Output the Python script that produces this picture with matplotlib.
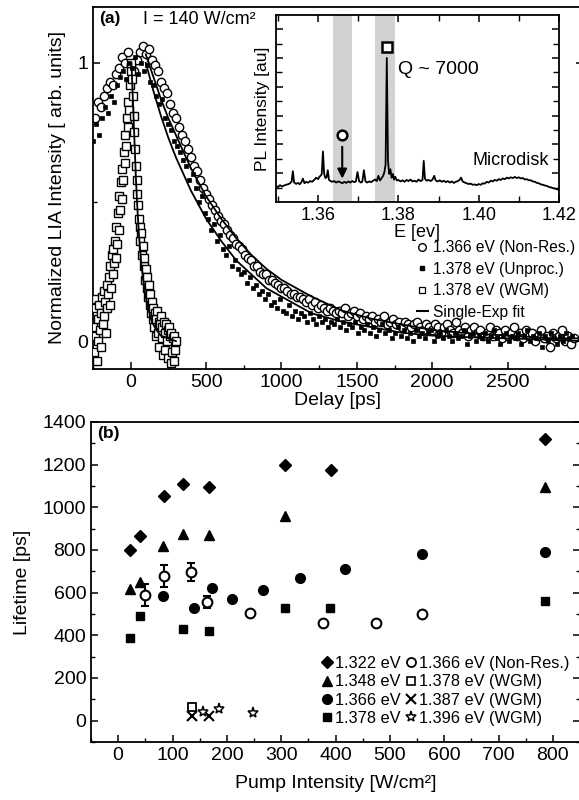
import numpy as np
import matplotlib
matplotlib.use("Agg")
import matplotlib.pyplot as plt
from matplotlib.lines import Line2D
from matplotlib.ticker import MultipleLocator, FixedLocator

plt.rcParams['font.family'] = ['Liberation Sans', 'DejaVu Sans']

# ---------------- Panel (a) data ----------------
nonres_delay = np.arange(-240, 2941, 20)
nonres_int = [
    0.80, 0.86, 0.84, 0.88, 0.91, 0.93, 0.92, 0.96, 0.98, 1.02,
    1.00, 1.04, 0.99, 0.97, 1.01, 1.04, 1.06, 1.03, 1.05, 1.01,
    0.99, 0.97, 0.93, 0.91, 0.89, 0.85, 0.82, 0.80, 0.77, 0.74,
    0.72, 0.69, 0.66, 0.63, 0.61, 0.58, 0.55, 0.53, 0.51, 0.49,
    0.47, 0.45, 0.43, 0.42, 0.40, 0.38, 0.37, 0.35, 0.34, 0.33,
    0.31, 0.30, 0.29, 0.27, 0.27, 0.25, 0.24, 0.24, 0.22, 0.22,
    0.21, 0.20, 0.19, 0.19, 0.18, 0.17, 0.17, 0.16, 0.16, 0.15,
    0.14, 0.15, 0.13, 0.14, 0.12, 0.13, 0.12, 0.11, 0.12, 0.11,
    0.10, 0.11, 0.10, 0.12, 0.09, 0.10, 0.11, 0.09, 0.10, 0.08,
    0.09, 0.08, 0.09, 0.07, 0.08, 0.07, 0.09, 0.06, 0.07, 0.08,
    0.06, 0.07, 0.05, 0.07, 0.06, 0.05, 0.06, 0.07, 0.05, 0.04,
    0.06, 0.05, 0.04, 0.06, 0.05, 0.03, 0.05, 0.06, 0.04, 0.03,
    0.07, 0.04, 0.03, 0.05, 0.02, 0.04, 0.05, 0.03, 0.04, 0.02,
    0.03, 0.05, 0.02, 0.04, 0.03, 0.01, 0.04, 0.02, 0.03, 0.05,
    0.02, 0.03, 0.01, 0.04, 0.02, 0.03, 0.00, 0.02, 0.04, 0.01,
    0.02, -0.02, 0.03, 0.01, 0.02, 0.04, 0.00, 0.02, -0.01, 0.01,
]

unproc_delay = np.arange(-250, 2931, 20)
unproc_int = [
    0.72, 0.78, 0.74, 0.80, 0.84, 0.82, 0.88, 0.86, 0.92, 0.95,
    0.97, 0.94, 1.00, 0.98, 1.02, 0.96, 1.00, 0.97, 0.99, 0.93,
    0.92, 0.88, 0.85, 0.87, 0.80, 0.78, 0.76, 0.72, 0.70, 0.68,
    0.65, 0.63, 0.58, 0.60, 0.55, 0.50, 0.52, 0.46, 0.44, 0.40,
    0.42, 0.36, 0.38, 0.33, 0.31, 0.34, 0.27, 0.29, 0.26, 0.24,
    0.25, 0.21, 0.23, 0.19, 0.20, 0.17, 0.18, 0.15, 0.17, 0.13,
    0.14, 0.12, 0.15, 0.11, 0.10, 0.13, 0.09, 0.11, 0.08, 0.10,
    0.09, 0.07, 0.10, 0.08, 0.06, 0.09, 0.07, 0.08, 0.05, 0.07,
    0.06, 0.08, 0.05, 0.07, 0.04, 0.06, 0.05, 0.07, 0.03, 0.05,
    0.04, 0.06, 0.03, 0.05, 0.02, 0.04, 0.06, 0.03, 0.04, 0.01,
    0.03, 0.05, 0.02, 0.04, 0.01, 0.03, 0.00, 0.04, 0.02, 0.03,
    0.01, 0.03, 0.04, 0.00, 0.02, 0.03, 0.01, 0.04, 0.02, 0.00,
    0.03, 0.01, 0.02, 0.04, -0.01, 0.02, 0.03, 0.00, 0.02, 0.01,
    0.03, 0.00, 0.02, 0.04, 0.01, -0.01, 0.02, 0.03, 0.00, 0.02,
    0.01, 0.03, -0.01, 0.02, 0.04, 0.00, 0.02, 0.01, 0.03, -0.02,
    0.02, 0.00, 0.03, 0.01, -0.01, 0.02, 0.00, 0.03, 0.01, 0.02,
]

wgm_delay = np.arange(-250, 301, 5)
wgm_int = [
    0.05, -0.04, 0.12, 0.02, 0.15, -0.07, 0.08, 0.00, 0.13, 0.04,
    0.10, -0.02, 0.16, 0.06, 0.18, 0.09, 0.14, 0.03, 0.20, 0.12,
    0.17, 0.23, 0.13, 0.27, 0.19, 0.31, 0.24, 0.33, 0.28, 0.36,
    0.30, 0.41, 0.35, 0.46, 0.40, 0.52, 0.47, 0.57, 0.51, 0.62,
    0.58, 0.68, 0.64, 0.74, 0.70, 0.80, 0.77, 0.86, 0.83, 0.92,
    0.97, 1.00, 0.94, 0.88, 0.81, 0.75, 0.69, 0.63, 0.58, 0.53,
    0.49, 0.44, 0.41, 0.36, 0.39, 0.31, 0.34, 0.27, 0.30, 0.22,
    0.26, 0.19, 0.23, 0.16, 0.20, 0.13, 0.17, 0.10, 0.14, 0.08,
    0.12, 0.05, 0.10, 0.02, 0.08, 0.11, 0.03, 0.07, -0.02, 0.06,
    0.09, 0.01, 0.05, -0.05, 0.07, 0.03, -0.03, 0.06, 0.00, 0.04,
    -0.06, 0.05, 0.02, -0.08, 0.03, -0.04, 0.01, -0.07, 0.02, -0.03, 0.00,
]

fit_nonres_delay = [100, 150, 200, 250, 300, 400, 500, 600, 700, 800, 900, 1000,
                    1200, 1400, 1600, 1800, 2000, 2200, 2500, 2800, 3000]
fit_nonres_int = [1.03, 0.95, 0.87, 0.80, 0.74, 0.62, 0.52, 0.44, 0.37, 0.31, 0.26, 0.22,
                  0.16, 0.11, 0.08, 0.06, 0.04, 0.03, 0.02, 0.01, 0.01]
fit_unproc_delay = [100, 150, 200, 250, 300, 400, 500, 600, 700, 800, 900, 1000,
                    1200, 1400, 1600, 1800, 2000, 2200, 2500, 2800, 3000]
fit_unproc_int = [1.00, 0.90, 0.81, 0.73, 0.66, 0.54, 0.44, 0.36, 0.29, 0.24, 0.19, 0.16,
                  0.10, 0.07, 0.05, 0.03, 0.02, 0.015, 0.01, 0.005, 0.0]
fit_wgm_delay = [5, 15, 25, 35, 45, 55, 70, 90, 110, 140, 170, 200, 250, 300]
fit_wgm_int = [1.00, 0.86, 0.72, 0.58, 0.47, 0.38, 0.28, 0.19, 0.13, 0.07, 0.04, 0.02, 0.01, 0.0]

# ---------------- Inset spectrum ----------------
spec_E = [1.3495, 1.3500, 1.3505, 1.3510, 1.3515, 1.3520, 1.3525, 1.3530, 1.3534, 1.3537,
          1.3540, 1.3545, 1.3550, 1.3554, 1.3558, 1.3562, 1.3566, 1.3570, 1.3575, 1.3580,
          1.3585, 1.3590, 1.3595, 1.3600, 1.3603, 1.3606, 1.3609, 1.3612, 1.3615, 1.3618,
          1.3621, 1.3624, 1.3627, 1.3631, 1.3635, 1.3640, 1.3645, 1.3650, 1.3655, 1.3660,
          1.3665, 1.3670, 1.3675, 1.3680, 1.3685, 1.3690, 1.3694, 1.3698, 1.3702, 1.3706,
          1.3710, 1.3714, 1.3718, 1.3722, 1.3727, 1.3732, 1.3737, 1.3742, 1.3746, 1.3750,
          1.3754, 1.3758, 1.3762, 1.3765, 1.3768, 1.3771, 1.3774, 1.3777, 1.3780, 1.3783,
          1.3786, 1.3789, 1.3792, 1.3796, 1.3800, 1.3805, 1.3810, 1.3815, 1.3820, 1.3825,
          1.3830, 1.3835, 1.3840, 1.3845, 1.3850, 1.3855, 1.3860, 1.3863, 1.3866, 1.3870,
          1.3875, 1.3880, 1.3885, 1.3889, 1.3893, 1.3898, 1.3903, 1.3908, 1.3913, 1.3918,
          1.3923, 1.3928, 1.3933, 1.3938, 1.3943, 1.3948, 1.3952, 1.3956, 1.3960, 1.3965,
          1.3970, 1.3975, 1.3980, 1.3985, 1.3990, 1.3995, 1.4000, 1.4005, 1.4010, 1.4015,
          1.4020, 1.4025, 1.4030, 1.4035, 1.4040, 1.4045, 1.4050, 1.4055, 1.4060, 1.4065,
          1.4070, 1.4075, 1.4080, 1.4085, 1.4090, 1.4095, 1.4100, 1.4105, 1.4110, 1.4115,
          1.4120, 1.4125, 1.4130, 1.4135, 1.4140, 1.4145, 1.4150, 1.4155, 1.4160, 1.4165,
          1.4170, 1.4175, 1.4180, 1.4185, 1.4190, 1.4195, 1.4200]
spec_I = [0.085, 0.080, 0.090, 0.083, 0.088, 0.092, 0.095, 0.100, 0.110, 0.165,
          0.105, 0.097, 0.102, 0.095, 0.105, 0.125, 0.100, 0.108, 0.103, 0.112,
          0.108, 0.118, 0.130, 0.122, 0.135, 0.140, 0.150, 0.270, 0.150, 0.128,
          0.132, 0.170, 0.118, 0.112, 0.108, 0.112, 0.104, 0.110, 0.106, 0.100,
          0.108, 0.102, 0.110, 0.104, 0.112, 0.106, 0.110, 0.160, 0.112, 0.104,
          0.108, 0.170, 0.110, 0.104, 0.110, 0.106, 0.114, 0.120, 0.112, 0.140,
          0.115, 0.128, 0.140, 0.160, 0.200, 0.770, 0.220, 0.150, 0.175, 0.130,
          0.150, 0.120, 0.135, 0.115, 0.118, 0.110, 0.116, 0.108, 0.118, 0.112,
          0.120, 0.110, 0.114, 0.108, 0.120, 0.112, 0.118, 0.220, 0.125, 0.114,
          0.118, 0.112, 0.120, 0.140, 0.115, 0.110, 0.116, 0.108, 0.114, 0.106,
          0.112, 0.104, 0.110, 0.102, 0.108, 0.112, 0.118, 0.130, 0.110, 0.104,
          0.100, 0.096, 0.098, 0.092, 0.094, 0.090, 0.096, 0.092, 0.100, 0.098,
          0.108, 0.104, 0.114, 0.110, 0.118, 0.114, 0.122, 0.118, 0.126, 0.122,
          0.130, 0.126, 0.132, 0.128, 0.134, 0.128, 0.132, 0.126, 0.128, 0.120,
          0.122, 0.116, 0.116, 0.110, 0.108, 0.102, 0.100, 0.094, 0.092, 0.088,
          0.086, 0.080, 0.078, 0.074, 0.072, 0.068, 0.065]
band_nonres = (1.3638, 1.3685)
band_wgm = (1.3742, 1.3791)

# ---------------- Panel (b) data ----------------
e1322_pump = [22, 41, 84, 120, 167, 307, 392, 785]
e1322_life = [800, 867, 1054, 1109, 1095, 1200, 1173, 1322]
e1348_pump = [22, 41, 83, 120, 167, 307, 786]
e1348_life = [616, 648, 819, 875, 871, 960, 1093]
e1366_pump = [83, 139, 173, 209, 267, 335, 418, 559, 785]
e1366_life = [584, 529, 620, 569, 612, 668, 711, 780, 789]
e1378_pump = [22, 41, 120, 167, 307, 390, 785]
e1378_life = [389, 492, 430, 420, 530, 529, 560]
nonres_pump = [50, 84, 134, 163, 243, 377, 475, 559]
nonres_life = [588, 678, 698, 557, 505, 458, 458, 499]
nonres_err = [52, 51, 41, 27, 0, 0, 0, 0]
w1378_pump = [136]
w1378_life = [66]
w1387_pump = [136, 168]
w1387_life = [24, 24]
w1396_pump = [157, 186, 249]
w1396_life = [39, 55, 36]

W, H = 579, 800
fig = plt.figure(figsize=(W / 100, H / 100), dpi=100)

def fr(l, t, r, b):
    return [l / W, 1 - b / H, (r - l) / W, (b - t) / H]

FS = 14

# ---------------- Panel (a) ----------------
axa = fig.add_axes(fr(93, 7, 583, 369))
axa.plot(wgm_delay, wgm_int, ls='none', marker='s', ms=5.2, mfc='white', mec='black', mew=1.0, zorder=3)
axa.plot(unproc_delay, unproc_int, ls='none', marker='s', ms=2.8, mfc='black', mec='black', mew=0.5, zorder=3)
axa.plot(nonres_delay, nonres_int, ls='none', marker='o', ms=6.0, mfc='white', mec='black', mew=1.0, zorder=2)
axa.plot(fit_nonres_delay, fit_nonres_int, color='black', lw=1.3, zorder=4)
axa.plot(fit_unproc_delay, fit_unproc_int, color='black', lw=1.3, zorder=4)
axa.plot(fit_wgm_delay, fit_wgm_int, color='black', lw=1.3, zorder=4)
axa.set_xlim(-250, 3000)
axa.set_ylim(-0.1, 1.2)
axa.xaxis.set_major_locator(FixedLocator([0, 500, 1000, 1500, 2000, 2500]))
axa.xaxis.set_minor_locator(MultipleLocator(250))
axa.yaxis.set_major_locator(FixedLocator([0, 1]))
axa.yaxis.set_minor_locator(FixedLocator([0.5]))
axa.tick_params(which='both', direction='in', labelsize=FS, top=False, right=True)
axa.tick_params(which='major', length=5, width=1.1)
axa.tick_params(which='minor', length=3, width=1.0)
axa.set_xlabel('Delay [ps]', fontsize=FS, labelpad=1)
axa.set_ylabel('Normalized LIA Intensity [ arb. units]', fontsize=FS, labelpad=8)
for s in axa.spines.values():
    s.set_linewidth(1.3)
axa.text(0.012, 0.988, '(a)', transform=axa.transAxes, fontsize=12.5, fontweight='bold', va='top', ha='left')
axa.text(0.103, 0.99, 'I = 140 W/cm²', transform=axa.transAxes, fontsize=13, va='top', ha='left')

hs_a = [Line2D([], [], ls='none', marker='o', ms=5.5, mfc='white', mec='black', mew=1.0),
        Line2D([], [], ls='none', marker='s', ms=3.0, mfc='black', mec='black'),
        Line2D([], [], ls='none', marker='s', ms=4.0, mfc='white', mec='black', mew=0.9),
        Line2D([], [], color='black', lw=1.5)]
labs_a = ['1.366 eV (Non-Res.)', '1.378 eV (Unproc.)', '1.378 eV (WGM)', 'Single-Exp fit']
axa.legend(hs_a, labs_a, loc='upper left', bbox_to_anchor=(417 / W, 1 - 240 / H),
           bbox_transform=fig.transFigure, frameon=False, fontsize=11.2,
           handlelength=0.7, handletextpad=0.3, labelspacing=0.42, borderpad=0, borderaxespad=0)

# ---------------- Inset ----------------
axi = fig.add_axes(fr(276, 15, 559, 202))
axi.axvspan(*band_nonres, color='#d2d2d2', lw=0, zorder=0)
axi.axvspan(*band_wgm, color='#d2d2d2', lw=0, zorder=0)
axi.plot(spec_E, spec_I, color='black', lw=1.3, zorder=2)
axi.plot([1.3660], [0.36], ls='none', marker='o', ms=7, mfc='white', mec='black', mew=1.8, zorder=3)
axi.plot([1.3772], [0.83], ls='none', marker='s', ms=7, mfc='white', mec='black', mew=1.8, zorder=3)
axi.annotate('', xy=(1.3660, 0.11), xytext=(1.3660, 0.31),
             arrowprops=dict(arrowstyle='-|>', color='black', lw=1.5, mutation_scale=14), zorder=3)
axi.text(1.3799, 0.71, 'Q ~ 7000', fontsize=14, va='center', ha='left')
axi.text(1.3984, 0.22, 'Microdisk', fontsize=13, va='center', ha='left')
axi.set_xlim(1.3495, 1.42)
axi.set_ylim(0, 1)
axi.xaxis.set_major_locator(FixedLocator([1.36, 1.38, 1.40, 1.42]))
axi.xaxis.set_minor_locator(FixedLocator([1.35, 1.37, 1.39, 1.41]))
axi.set_xticklabels(['1.36', '1.38', '1.40', '1.42'])
yt = [0.077 * k for k in range(1, 13)]
axi.yaxis.set_major_locator(FixedLocator(yt[1::2]))
axi.yaxis.set_minor_locator(FixedLocator(yt[0::2]))
axi.tick_params(which='both', direction='in', labelsize=13, top=True, right=True, labelleft=False)
axi.tick_params(which='major', length=5, width=1.1)
axi.tick_params(which='minor', length=4, width=1.0)
axi.set_xlabel('E [ev]', fontsize=13, labelpad=0)
axi.set_ylabel('PL Intensity [au]', fontsize=12.5, labelpad=4)
for s in axi.spines.values():
    s.set_linewidth(1.3)

# ---------------- Panel (b) ----------------
axb = fig.add_axes(fr(91, 422, 580, 742))
axb.plot(e1322_pump, e1322_life, ls='none', marker='D', ms=6.5, color='black')
axb.plot(e1348_pump, e1348_life, ls='none', marker='^', ms=7.5, color='black')
axb.plot(e1366_pump, e1366_life, ls='none', marker='o', ms=7, color='black')
axb.plot(e1378_pump, e1378_life, ls='none', marker='s', ms=6, color='black')
axb.errorbar(nonres_pump, nonres_life, yerr=nonres_err, ls='none', marker='o', ms=7,
             mfc='white', mec='black', mew=1.5, ecolor='black', elinewidth=1.5, capsize=3, capthick=1.5)
axb.plot(w1378_pump, w1378_life, ls='none', marker='s', ms=6, mfc='white', mec='black', mew=1.3)
axb.plot(w1387_pump, w1387_life, ls='none', marker='x', ms=7, color='black', mew=1.5)
axb.plot(w1396_pump, w1396_life, ls='none', marker='*', ms=8, mfc='white', mec='black', mew=1.1)
axb.set_xlim(-50, 850)
axb.set_ylim(-100, 1400)
axb.xaxis.set_major_locator(FixedLocator([0, 100, 200, 300, 400, 500, 600, 700, 800]))
axb.xaxis.set_minor_locator(MultipleLocator(50))
axb.yaxis.set_major_locator(FixedLocator([0, 200, 400, 600, 800, 1000, 1200, 1400]))
axb.yaxis.set_minor_locator(MultipleLocator(100))
axb.tick_params(which='both', direction='in', labelsize=FS, top=False, right=True)
axb.tick_params(which='major', length=5, width=1.1)
axb.tick_params(which='minor', length=3, width=1.0)
axb.set_xlabel('Pump Intensity [W/cm²]', fontsize=FS, labelpad=8)
axb.set_ylabel('Lifetime [ps]', fontsize=FS, labelpad=8)
for s in axb.spines.values():
    s.set_linewidth(1.3)
axb.text(0.012, 0.988, '(b)', transform=axb.transAxes, fontsize=12.5, fontweight='bold', va='top', ha='left')

hs_b = [Line2D([], [], ls='none', marker='D', ms=6.5, color='black'),
        Line2D([], [], ls='none', marker='^', ms=7.5, color='black'),
        Line2D([], [], ls='none', marker='o', ms=7, color='black'),
        Line2D([], [], ls='none', marker='s', ms=6, color='black'),
        Line2D([], [], ls='none', marker='o', ms=6.5, mfc='white', mec='black', mew=1.3),
        Line2D([], [], ls='none', marker='s', ms=6, mfc='white', mec='black', mew=1.2),
        Line2D([], [], ls='none', marker='x', ms=7, color='black', mew=1.5),
        Line2D([], [], ls='none', marker='*', ms=8, mfc='white', mec='black', mew=1.1)]
labs_b = ['1.322 eV', '1.348 eV', '1.366 eV', '1.378 eV',
          '1.366 eV (Non-Res.)', '1.378 eV (WGM)', '1.387 eV (WGM)', '1.396 eV (WGM)']
axb.legend(hs_b, labs_b, ncol=2, loc='upper left', bbox_to_anchor=(322 / W, 1 - 656 / H),
           bbox_transform=fig.transFigure, frameon=False, fontsize=11.8,
           handlelength=0.6, handletextpad=0.2, labelspacing=0.2, columnspacing=0.3,
           borderpad=0, borderaxespad=0)

fig.savefig('out.png', dpi=100)
